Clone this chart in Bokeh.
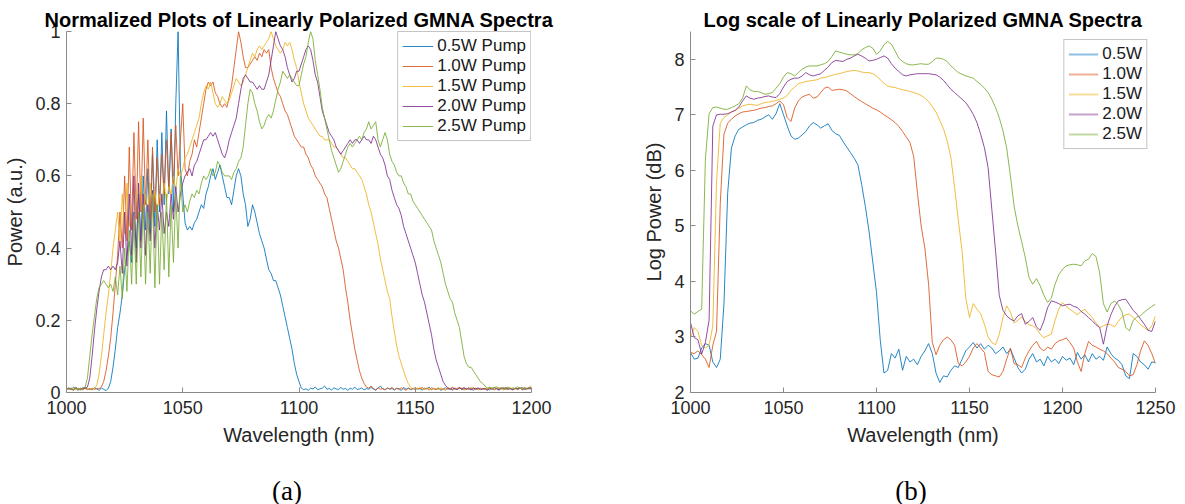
from bokeh.plotting import figure
from bokeh.models import Range1d, FixedTicker, Legend, LegendItem
from bokeh.core.properties import value
from bokeh.layouts import row, column
from bokeh.embed import file_html
from bokeh.resources import INLINE
import numpy as np

# ---------------- data ----------------
SERIES_N = ["0.5W Pump", "1.0W Pump", "1.5W Pump", "2.0W Pump", "2.5W Pump"]
SERIES_L = ["0.5W", "1.0W", "1.5W", "2.0W", "2.5W"]
CAPTIONS = ["(a)", "(b)"]
COLORS = ["#0072BD", "#D95319", "#EDB120", "#7E2F8E", "#77AC30"]

# normalized spectra, wavelength 1000..1200 nm, 1 nm steps
WL_N_START, WL_N_STEP = 1000, 1
P05_N = [0.010, 0.012, 0.008, 0.015, 0.010, 0.006, 0.012, 0.009, 0.014, 0.008,
         0.011, 0.007, 0.013, 0.010, 0.006, 0.012, 0.009, 0.005, 0.012, 0.030,
         0.070, 0.120, 0.180, 0.220, 0.270, 0.340, 0.380, 0.420, 0.360, 0.500,
         0.400, 0.550, 0.420, 0.600, 0.450, 0.620, 0.440, 0.660, 0.460, 0.700,
         0.500, 0.720, 0.520, 0.780, 0.550, 0.730, 0.500, 0.800, 1.000, 0.620,
         0.550, 0.470, 0.450, 0.460, 0.450, 0.470, 0.480, 0.500, 0.520, 0.510,
         0.550, 0.570, 0.600, 0.620, 0.590, 0.610, 0.630, 0.600, 0.570, 0.540,
         0.540, 0.520, 0.560, 0.600, 0.620, 0.600, 0.550, 0.520, 0.460, 0.480,
         0.520, 0.500, 0.470, 0.440, 0.420, 0.400, 0.370, 0.340, 0.330, 0.310,
         0.310, 0.290, 0.270, 0.240, 0.210, 0.180, 0.150, 0.120, 0.080, 0.050,
         0.030, 0.012, 0.008, 0.010, 0.006, 0.012, 0.010, 0.015, 0.008, 0.010,
         0.012, 0.018, 0.009, 0.011, 0.007, 0.013, 0.010, 0.008, 0.014, 0.009,
         0.011, 0.006, 0.012, 0.009, 0.015, 0.008, 0.010, 0.013, 0.007, 0.011,
         0.009, 0.014, 0.010, 0.006, 0.012, 0.018, 0.010, 0.008, 0.013, 0.009,
         0.011, 0.007, 0.012, 0.010, 0.006, 0.014, 0.009, 0.012, 0.008, 0.010,
         0.013, 0.009, 0.011, 0.007, 0.012, 0.010, 0.015, 0.008, 0.011, 0.009,
         0.012, 0.006, 0.010, 0.013, 0.009, 0.011, 0.007, 0.012, 0.010, 0.014,
         0.008, 0.011, 0.009, 0.013, 0.010, 0.006, 0.012, 0.009, 0.011, 0.008,
         0.012, 0.010, 0.007, 0.013, 0.009, 0.011, 0.006, 0.012, 0.010, 0.014,
         0.009, 0.011, 0.008, 0.012, 0.010, 0.013, 0.007, 0.011, 0.009, 0.012,
         0.010]
P10_N = [0.008, 0.012, 0.010, 0.006, 0.014, 0.009, 0.011, 0.007, 0.013, 0.010,
         0.008, 0.012, 0.009, 0.011, 0.010, 0.015, 0.030, 0.060, 0.100, 0.150,
         0.220, 0.300, 0.380, 0.500, 0.400, 0.600, 0.420, 0.680, 0.450, 0.720,
         0.480, 0.750, 0.500, 0.760, 0.520, 0.700, 0.480, 0.680, 0.500, 0.650,
         0.520, 0.660, 0.550, 0.700, 0.560, 0.720, 0.580, 0.740, 0.600, 0.700,
         0.800, 0.620, 0.600, 0.640, 0.660, 0.700, 0.680, 0.720, 0.760, 0.800,
         0.840, 0.860, 0.850, 0.860, 0.830, 0.820, 0.800, 0.790, 0.800, 0.790,
         0.820, 0.850, 0.900, 0.950, 1.000, 0.970, 0.930, 0.900, 0.900, 0.910,
         0.920, 0.930, 0.920, 0.940, 0.930, 0.950, 0.940, 0.950, 0.900, 0.870,
         0.850, 0.830, 0.820, 0.800, 0.780, 0.770, 0.750, 0.730, 0.710, 0.700,
         0.690, 0.680, 0.680, 0.660, 0.650, 0.630, 0.620, 0.600, 0.590, 0.580,
         0.570, 0.550, 0.540, 0.510, 0.480, 0.450, 0.420, 0.400, 0.370, 0.340,
         0.290, 0.250, 0.200, 0.160, 0.120, 0.090, 0.060, 0.040, 0.025, 0.015,
         0.012, 0.018, 0.010, 0.008, 0.013, 0.009, 0.011, 0.007, 0.012, 0.010,
         0.014, 0.008, 0.011, 0.009, 0.013, 0.010, 0.006, 0.012, 0.009, 0.011,
         0.008, 0.012, 0.010, 0.014, 0.009, 0.011, 0.007, 0.013, 0.010, 0.008,
         0.012, 0.009, 0.011, 0.006, 0.013, 0.010, 0.008, 0.012, 0.009, 0.014,
         0.010, 0.007, 0.012, 0.009, 0.011, 0.013, 0.008, 0.010, 0.012, 0.009,
         0.011, 0.008, 0.013, 0.010, 0.007, 0.012, 0.009, 0.011, 0.014, 0.010,
         0.008, 0.012, 0.009, 0.011, 0.010, 0.013, 0.008, 0.012, 0.010, 0.015,
         0.012]
P15_N = [0.011, 0.008, 0.013, 0.010, 0.007, 0.012, 0.009, 0.014, 0.010, 0.008,
         0.012, 0.009, 0.011, 0.020, 0.050, 0.100, 0.160, 0.220, 0.270, 0.330,
         0.400, 0.450, 0.500, 0.420, 0.550, 0.440, 0.580, 0.460, 0.520, 0.450,
         0.560, 0.470, 0.600, 0.480, 0.550, 0.500, 0.580, 0.520, 0.560, 0.500,
         0.550, 0.520, 0.580, 0.530, 0.570, 0.550, 0.600, 0.560, 0.620, 0.600,
         0.620, 0.650, 0.660, 0.680, 0.700, 0.720, 0.740, 0.760, 0.800, 0.830,
         0.850, 0.840, 0.860, 0.830, 0.800, 0.790, 0.800, 0.820, 0.810, 0.800,
         0.810, 0.830, 0.850, 0.870, 0.860, 0.850, 0.860, 0.880, 0.900, 0.920,
         0.940, 0.930, 0.950, 0.960, 0.950, 0.960, 0.970, 0.980, 1.000, 0.980,
         0.960, 0.950, 0.940, 0.950, 0.970, 0.960, 0.970, 0.950, 0.920, 0.900,
         0.860, 0.830, 0.800, 0.780, 0.760, 0.750, 0.740, 0.730, 0.720, 0.710,
         0.710, 0.700, 0.700, 0.700, 0.690, 0.680, 0.680, 0.670, 0.660, 0.650,
         0.650, 0.640, 0.630, 0.620, 0.620, 0.610, 0.600, 0.590, 0.570, 0.550,
         0.520, 0.500, 0.470, 0.440, 0.410, 0.370, 0.340, 0.310, 0.280, 0.260,
         0.210, 0.170, 0.130, 0.100, 0.080, 0.060, 0.040, 0.025, 0.015, 0.010,
         0.012, 0.009, 0.014, 0.010, 0.008, 0.013, 0.011, 0.007, 0.012, 0.010,
         0.009, 0.013, 0.010, 0.008, 0.012, 0.011, 0.015, 0.009, 0.012, 0.010,
         0.013, 0.008, 0.011, 0.010, 0.014, 0.009, 0.012, 0.007, 0.011, 0.010,
         0.009, 0.012, 0.010, 0.014, 0.008, 0.011, 0.013, 0.010, 0.007, 0.012,
         0.010, 0.013, 0.009, 0.011, 0.008, 0.012, 0.010, 0.014, 0.009, 0.011,
         0.013]
P20_N = [0.009, 0.012, 0.010, 0.007, 0.013, 0.010, 0.008, 0.012, 0.011, 0.015,
         0.040, 0.100, 0.170, 0.230, 0.280, 0.320, 0.340, 0.340, 0.350, 0.340,
         0.350, 0.340, 0.360, 0.420, 0.330, 0.500, 0.350, 0.550, 0.380, 0.600,
         0.360, 0.580, 0.400, 0.550, 0.380, 0.520, 0.420, 0.560, 0.400, 0.520,
         0.450, 0.550, 0.440, 0.500, 0.460, 0.550, 0.480, 0.570, 0.500, 0.550,
         0.580, 0.600, 0.610, 0.620, 0.600, 0.630, 0.640, 0.660, 0.680, 0.700,
         0.700, 0.710, 0.720, 0.710, 0.720, 0.700, 0.680, 0.660, 0.650, 0.670,
         0.700, 0.720, 0.740, 0.760, 0.800, 0.840, 0.870, 0.880, 0.870, 0.860,
         0.860, 0.850, 0.840, 0.850, 0.840, 0.840, 0.860, 0.880, 0.920, 0.960,
         1.000, 0.980, 0.960, 0.950, 0.930, 0.900, 0.880, 0.860, 0.870, 0.890,
         0.890, 0.910, 0.930, 0.950, 0.960, 0.950, 0.920, 0.880, 0.860, 0.820,
         0.780, 0.760, 0.740, 0.720, 0.710, 0.700, 0.680, 0.670, 0.660, 0.670,
         0.680, 0.690, 0.700, 0.690, 0.700, 0.700, 0.690, 0.700, 0.710, 0.700,
         0.700, 0.690, 0.710, 0.700, 0.680, 0.660, 0.650, 0.630, 0.600, 0.590,
         0.560, 0.540, 0.520, 0.510, 0.490, 0.460, 0.440, 0.420, 0.400, 0.380,
         0.360, 0.330, 0.300, 0.270, 0.250, 0.220, 0.190, 0.160, 0.120, 0.090,
         0.070, 0.050, 0.030, 0.020, 0.012, 0.009, 0.013, 0.010, 0.008, 0.012,
         0.010, 0.014, 0.009, 0.011, 0.007, 0.012, 0.010, 0.013, 0.008, 0.011,
         0.010, 0.006, 0.012, 0.009, 0.014, 0.010, 0.008, 0.012, 0.011, 0.009,
         0.013, 0.010, 0.007, 0.012, 0.009, 0.011, 0.014, 0.008, 0.012, 0.010,
         0.011]
P25_N = [0.012, 0.009, 0.011, 0.008, 0.013, 0.010, 0.007, 0.012, 0.015, 0.040,
         0.100, 0.160, 0.210, 0.260, 0.290, 0.300, 0.310, 0.300, 0.290, 0.300,
         0.280, 0.320, 0.270, 0.350, 0.260, 0.400, 0.280, 0.450, 0.300, 0.480,
         0.300, 0.500, 0.320, 0.520, 0.300, 0.500, 0.330, 0.550, 0.290, 0.520,
         0.300, 0.500, 0.340, 0.550, 0.320, 0.520, 0.360, 0.550, 0.400, 0.600,
         0.500, 0.520, 0.500, 0.530, 0.550, 0.540, 0.560, 0.550, 0.580, 0.600,
         0.590, 0.600, 0.620, 0.600, 0.610, 0.640, 0.630, 0.610, 0.600, 0.600,
         0.600, 0.590, 0.610, 0.620, 0.640, 0.650, 0.680, 0.740, 0.800, 0.840,
         0.830, 0.800, 0.780, 0.750, 0.730, 0.740, 0.760, 0.770, 0.760, 0.780,
         0.810, 0.840, 0.860, 0.890, 0.880, 0.870, 0.880, 0.870, 0.860, 0.850,
         0.850, 0.880, 0.910, 0.930, 0.970, 1.000, 0.980, 0.920, 0.880, 0.840,
         0.790, 0.760, 0.730, 0.700, 0.670, 0.650, 0.630, 0.610, 0.620, 0.640,
         0.660, 0.680, 0.690, 0.680, 0.690, 0.700, 0.710, 0.700, 0.720, 0.730,
         0.750, 0.730, 0.740, 0.750, 0.700, 0.680, 0.700, 0.720, 0.700, 0.660,
         0.640, 0.630, 0.610, 0.600, 0.600, 0.580, 0.570, 0.550, 0.550, 0.530,
         0.520, 0.510, 0.500, 0.490, 0.480, 0.470, 0.460, 0.450, 0.420, 0.400,
         0.380, 0.360, 0.330, 0.300, 0.280, 0.260, 0.250, 0.220, 0.200, 0.180,
         0.140, 0.100, 0.080, 0.070, 0.070, 0.060, 0.050, 0.040, 0.030, 0.025,
         0.018, 0.012, 0.015, 0.010, 0.013, 0.016, 0.011, 0.014, 0.009, 0.012,
         0.015, 0.010, 0.013, 0.011, 0.016, 0.012, 0.009, 0.014, 0.011, 0.013,
         0.018]

# log spectra (dB), wavelength 1000..1250 nm, 2 nm steps
WL_L_START, WL_L_STEP = 1000, 2
P05_L = [2.72, 2.60, 2.62, 2.80, 2.88, 2.85, 2.55, 2.45, 2.60, 3.60,
         5.60, 6.40, 6.62, 6.74, 6.78, 6.82, 6.85, 6.86, 6.90, 6.92,
         6.96, 7.00, 6.92, 7.02, 7.20, 7.00, 6.80, 6.62, 6.56, 6.58,
         6.64, 6.70, 6.80, 6.86, 6.82, 6.76, 6.80, 6.84, 6.72, 6.66,
         6.63, 6.52, 6.42, 6.32, 6.22, 6.10, 5.75, 5.35, 4.90, 4.35,
         3.80, 2.95, 2.35, 2.40, 2.70, 2.62, 2.78, 2.40, 2.65, 2.55,
         2.60, 2.50, 2.65, 2.75, 2.88, 2.70, 2.35, 2.18, 2.30, 2.28,
         2.40, 2.48, 2.45, 2.60, 2.75, 2.82, 2.90, 2.80, 2.88, 2.78,
         2.85, 2.80, 2.70, 2.75, 2.82, 2.70, 2.78, 2.62, 2.45, 2.35,
         2.42, 2.60, 2.70, 2.55, 2.60, 2.48, 2.65, 2.55, 2.60, 2.52,
         2.65, 2.58, 2.62, 2.50, 2.72, 2.60, 2.68, 2.55, 2.70, 2.60,
         2.65, 2.58, 2.82, 2.70, 2.62, 2.58, 2.50, 2.30, 2.25, 2.70,
         2.65, 2.55, 2.50, 2.42, 2.55, 2.54]
P10_L = [2.72, 2.70, 2.75, 2.68, 2.60, 2.45, 2.85, 3.10, 5.40, 6.65,
         6.85, 6.92, 6.98, 7.02, 7.05, 7.06, 7.07, 7.08, 7.10, 7.12,
         7.13, 7.15, 7.16, 7.20, 7.25, 7.18, 6.95, 6.88, 7.12, 7.25,
         7.32, 7.35, 7.37, 7.30, 7.32, 7.40, 7.48, 7.50, 7.44, 7.45,
         7.46, 7.45, 7.43, 7.38, 7.33, 7.28, 7.24, 7.20, 7.16, 7.12,
         7.09, 7.05, 7.00, 6.96, 6.91, 6.86, 6.79, 6.70, 6.60, 6.50,
         6.25, 5.60, 5.00, 4.60, 3.95, 2.90, 2.68, 2.85, 2.95, 3.00,
         2.95, 2.85, 2.52, 2.48, 2.55, 2.65, 2.80, 2.88, 2.80, 2.72,
         2.38, 2.32, 2.30, 2.28, 2.38, 2.60, 2.80, 2.52, 2.50, 2.45,
         2.62, 2.75, 2.85, 2.92, 2.80, 2.75, 2.82, 2.78, 2.88, 2.93,
         2.95, 2.98, 2.90, 2.80, 2.55, 2.38, 2.70, 2.92, 2.85, 2.82,
         2.78, 2.75, 2.70, 2.62, 2.55, 2.45, 2.42, 2.38, 2.30, 2.32,
         2.50, 2.75, 2.93, 2.85, 2.70, 2.52]
P15_L = [2.99, 3.17, 3.10, 2.85, 2.80, 2.85, 3.20, 5.80, 6.85, 6.95,
         7.00, 7.05, 7.08, 7.12, 7.16, 7.18, 7.19, 7.18, 7.17, 7.20,
         7.22, 7.23, 7.24, 7.26, 7.28, 7.30, 7.35, 7.44, 7.50, 7.56,
         7.58, 7.60, 7.61, 7.62, 7.63, 7.66, 7.67, 7.69, 7.71, 7.73,
         7.74, 7.76, 7.78, 7.79, 7.80, 7.79, 7.77, 7.76, 7.76, 7.74,
         7.70, 7.63, 7.57, 7.52, 7.50, 7.49, 7.47, 7.45, 7.44, 7.42,
         7.40, 7.38, 7.35, 7.30, 7.24, 7.15, 7.05, 6.90, 6.75, 6.53,
         6.23, 5.69, 5.10, 4.55, 3.70, 3.35, 3.60, 3.50, 3.42, 3.23,
         3.00, 2.90, 2.86, 3.05, 3.35, 3.56, 3.45, 3.25, 3.30, 3.36,
         3.28, 3.22, 3.20, 3.15, 3.05, 2.99, 3.02, 3.05, 3.30, 3.50,
         3.62, 3.55, 3.50, 3.45, 3.40, 3.46, 3.50, 3.42, 3.35, 3.25,
         3.17, 3.20, 3.23, 3.22, 3.18, 3.28, 3.36, 3.40, 3.41, 3.35,
         3.29, 3.22, 3.17, 3.12, 3.20, 3.38]
P20_L = [3.26, 2.99, 2.95, 2.69, 2.90, 3.30, 6.80, 7.00, 7.01, 7.01,
         7.02, 7.05, 7.08, 7.14, 7.25, 7.34, 7.30, 7.28, 7.30, 7.31,
         7.33, 7.34, 7.32, 7.31, 7.38, 7.50, 7.60, 7.64, 7.66, 7.66,
         7.70, 7.76, 7.72, 7.70, 7.72, 7.74, 7.80, 7.86, 7.94, 7.98,
         7.97, 7.96, 8.00, 8.02, 8.06, 8.09, 8.06, 8.02, 7.97, 7.98,
         8.00, 8.03, 8.06, 8.02, 7.92, 7.84, 7.78, 7.72, 7.70, 7.72,
         7.73, 7.74, 7.74, 7.74, 7.74, 7.73, 7.72, 7.68, 7.62, 7.54,
         7.46, 7.40, 7.34, 7.28, 7.22, 7.12, 7.01, 6.86, 6.65, 6.41,
         6.05, 5.30, 4.55, 3.75, 3.48, 3.38, 3.32, 3.29, 3.38, 3.42,
         3.23, 3.28, 3.35, 3.18, 3.12, 3.29, 3.53, 3.65, 3.63, 3.60,
         3.56, 3.58, 3.59, 3.55, 3.53, 3.46, 3.41, 3.35, 3.29, 3.22,
         3.17, 2.87, 3.20, 3.40, 3.55, 3.65, 3.67, 3.68, 3.58, 3.48,
         3.41, 3.32, 3.23, 3.12, 3.10, 3.29]
P25_L = [3.47, 3.41, 3.46, 3.50, 6.20, 7.02, 7.13, 7.14, 7.12, 7.10,
         7.10, 7.13, 7.16, 7.20, 7.30, 7.52, 7.45, 7.42, 7.42, 7.40,
         7.37, 7.38, 7.40, 7.48, 7.56, 7.68, 7.76, 7.74, 7.70, 7.76,
         7.82, 7.86, 7.88, 7.88, 7.88, 7.90, 7.92, 7.96, 8.05, 8.15,
         8.13, 8.11, 8.09, 8.08, 8.08, 8.10, 8.17, 8.21, 8.24, 8.20,
         8.09, 8.15, 8.26, 8.32, 8.27, 8.15, 8.02, 7.96, 7.92, 7.90,
         7.90, 7.91, 7.92, 7.91, 7.91, 7.96, 8.02, 8.02, 8.00, 7.96,
         7.88, 7.82, 7.76, 7.73, 7.70, 7.68, 7.66, 7.60, 7.55, 7.48,
         7.40, 7.28, 7.13, 6.95, 6.71, 6.40, 5.90, 5.35, 5.00, 4.72,
         4.43, 4.07, 3.95, 4.05, 3.92, 3.75, 3.62, 3.70, 3.95, 4.12,
         4.22, 4.28, 4.30, 4.31, 4.30, 4.28, 4.37, 4.40, 4.50, 4.45,
         4.15, 3.60, 3.45, 3.60, 3.65, 3.58, 3.45, 3.17, 3.11, 3.30,
         3.36, 3.38, 3.45, 3.50, 3.55, 3.59]

NORM = [P05_N, P10_N, P15_N, P20_N, P25_N]
LOGS = [P05_L, P10_L, P15_L, P20_L, P25_L]

X_TICKS_N = [1000, 1050, 1100, 1150, 1200]
Y_TICKS_N = [0, 0.2, 0.4, 0.6, 0.8, 1]
X_TICKS_L = [1000, 1050, 1100, 1150, 1200, 1250]
Y_TICKS_L = [2, 3, 4, 5, 6, 7, 8]

# ---------------- layout constants ----------------
FIG1_W, FIG2_W = 600, 585
MAIN_H, CAP_H = 464, 40
FRAME_TOP, FRAME_H, FRAME_W = 31, 361, 465
FRAME1_L, FRAME2_L = 66, 90
CAP_SHIFT = -12          # captions sit slightly left of frame centre
CAP_Y = 14               # caption centre, px above page bottom

FONT = "Liberation Sans"
SERIF = "Liberation Serif"
AXIS_GREY = "#8a8a8a"
TEXT = "#262626"


def style(p, title):
    p.outline_line_color = None
    p.xgrid.visible = False
    p.ygrid.visible = False
    p.background_fill_color = "white"
    p.border_fill_color = "white"
    p.title.text = title
    p.title.align = "center"
    p.title.text_font = FONT
    p.title.text_font_size = "20px"
    p.title.text_font_style = "bold"
    p.title.text_color = "black"
    p.title.standoff = 2
    for ax in list(p.xaxis) + list(p.yaxis):
        ax.axis_line_color = AXIS_GREY
        ax.axis_line_width = 1
        ax.major_tick_line_color = AXIS_GREY
        ax.major_tick_in = 5
        ax.major_tick_out = 0
        ax.minor_tick_line_color = None
        ax.major_label_text_font = FONT
        ax.major_label_text_font_size = "18px"
        ax.major_label_text_color = TEXT
        ax.axis_label_text_font = FONT
        ax.axis_label_text_font_size = "20px"
        ax.axis_label_text_font_style = "normal"
        ax.axis_label_text_color = TEXT
    p.xaxis.major_label_standoff = 8
    p.yaxis.major_label_standoff = 6
    p.xaxis.axis_label_standoff = 7
    p.yaxis.axis_label_standoff = 6


def style_legend(leg, glyph_w, margin):
    leg.location = "top_right"
    leg.margin = margin
    leg.padding = 4
    leg.spacing = 0
    leg.glyph_width = glyph_w
    leg.glyph_height = 20
    leg.label_height = 20
    leg.label_standoff = 4
    leg.label_text_font = FONT
    leg.label_text_font_size = "17px"
    leg.label_text_color = "#1a1a1a"
    leg.border_line_color = "#8c8c8c"
    leg.border_line_width = 1
    leg.background_fill_color = "white"
    leg.background_fill_alpha = 1.0


def make_fig(width, frame_left, xr, yr, xlabel, ylabel):
    return figure(width=width, height=MAIN_H, output_backend="svg", toolbar_location=None,
                  x_range=xr, y_range=yr,
                  min_border_left=frame_left,
                  min_border_right=width - frame_left - FRAME_W,
                  min_border_top=FRAME_TOP,
                  min_border_bottom=MAIN_H - FRAME_TOP - FRAME_H,
                  x_axis_label=xlabel, y_axis_label=ylabel)


# ---------------- left: normalized ----------------
p1 = make_fig(FIG1_W, FRAME1_L, Range1d(1000, 1200), Range1d(0, 1),
              "Wavelength (nm)", "Power (a.u.)")
style(p1, "Normalized Plots of Linearly Polarized GMNA Spectra")
p1.xaxis.ticker = FixedTicker(ticks=X_TICKS_N)
p1.yaxis.ticker = FixedTicker(ticks=Y_TICKS_N)
p1.yaxis.major_label_overrides = {0: "0", 0.2: "0.2", 0.4: "0.4", 0.6: "0.6", 0.8: "0.8", 1: "1"}

items1 = []
for name, ys, c in zip(SERIES_N, NORM, COLORS):
    xs = WL_N_START + WL_N_STEP * np.arange(len(ys))
    r = p1.line(xs, ys, line_color=c, line_width=1, line_alpha=0.85)
    items1.append(LegendItem(label=name, renderers=[r]))
leg1 = Legend(items=items1)
style_legend(leg1, 31, 0)
p1.add_layout(leg1)

# ---------------- right: log scale ----------------
p2 = make_fig(FIG2_W, FRAME2_L, Range1d(1000, 1250), Range1d(2, 8.5),
              "Wavelength (nm)", "Log Power (dB)")
style(p2, "Log scale of Linearly Polarized GMNA Spectra")
p2.xaxis.ticker = FixedTicker(ticks=X_TICKS_L)
p2.yaxis.ticker = FixedTicker(ticks=Y_TICKS_L)

items2 = []
for name, ys, c in zip(SERIES_L, LOGS, COLORS):
    xs = WL_L_START + WL_L_STEP * np.arange(len(ys))
    p2.line(xs, ys, line_color=c, line_width=1, line_alpha=0.85)
    # legend swatch only (drawn off-range; MATLAB shows these thicker / lighter)
    sw = p2.line([0, 1], [0, 0], line_color=c, line_width=2.2, line_alpha=0.45)
    items2.append(LegendItem(label=name, renderers=[sw]))
leg2 = Legend(items=items2)
style_legend(leg2, 30, 8)
p2.add_layout(leg2)

# ---------------- sub-figure captions strip ----------------
total_w = FIG1_W + FIG2_W
pc = figure(width=total_w, height=CAP_H, output_backend="svg", toolbar_location=None,
            x_range=Range1d(0, total_w), y_range=Range1d(0, CAP_H),
            x_axis_type=None, y_axis_type=None, min_border=0)
pc.outline_line_color = None
pc.xgrid.visible = False
pc.ygrid.visible = False
cap_x = [FRAME1_L + FRAME_W / 2 + CAP_SHIFT, FIG1_W + FRAME2_L + FRAME_W / 2 + CAP_SHIFT]
pc.text(x=cap_x, y=[CAP_Y, CAP_Y], text=CAPTIONS, text_font=value(SERIF),
        text_font_size="27px", text_color="black", text_align="center",
        text_baseline="middle")

layout = column(row(p1, p2), pc)
open("out.html", "w").write(file_html(layout, INLINE))
